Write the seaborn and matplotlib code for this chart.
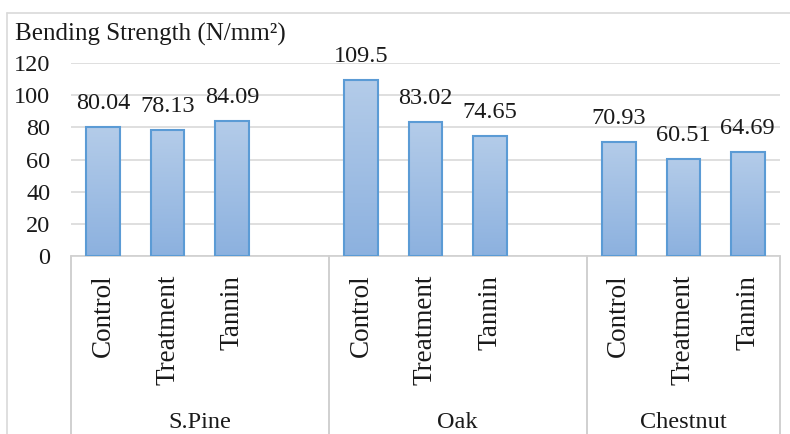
import numpy as np
import pandas as pd
import matplotlib
matplotlib.use("Agg")
import matplotlib.pyplot as plt
import matplotlib.transforms as mtransforms
from matplotlib.colors import LinearSegmentedColormap
import seaborn as sns

# ---- data ----
groups = ["S.Pine", "Oak", "Chestnut"]
treatments = ["Control", "Treatment", "Tannin"]
spine_vals = [80.04, 78.13, 84.09]
oak_vals = [109.5, 83.02, 74.65]
chestnut_vals = [70.93, 60.51, 64.69]
value_labels = [["80.04", "78.13", "84.09"],
                ["109.5", "83.02", "74.65"],
                ["70.93", "60.51", "64.69"]]
y_ticks = [0, 20, 40, 60, 80, 100, 120]
y_title = "Bending Strength (N/mm²)"

all_vals = [spine_vals, oak_vals, chestnut_vals]

# build table and slot order (an empty slot between groups, as in the original)
rows = []
order = []
slot_text = []
group_bounds = []
for gi, (g, vals) in enumerate(zip(groups, all_vals)):
    start = len(order) - 0.5
    for t, v in zip(treatments, vals):
        key = f"{g}|{t}"
        rows.append({"slot": key, "value": v})
        order.append(key)
        slot_text.append(t)
    if gi < len(groups) - 1:
        order.append(f"gap{gi}")
        slot_text.append("")
    end = len(order) - 0.5
    group_bounds.append((start, end))
df = pd.DataFrame(rows)

sns.set_theme(style="white")
SERIF = ["Liberation Serif", "DejaVu Serif"]
plt.rcParams["font.family"] = SERIF
TXT = "#1a1a1a"

fig = plt.figure(figsize=(7.9, 4.34), dpi=100)
ax = fig.add_axes([71 / 790, 1 - 256 / 434, (780 - 71) / 790, (256 - 63) / 434])

sns.barplot(data=df, x="slot", y="value", order=order, width=0.52,
            color="#a3c0e4", edgecolor="#5b9bd5", linewidth=1.5,
            errorbar=None, ax=ax, zorder=3)

ax.set_ylim(0, 120)
ax.set_xlim(-0.5, len(order) - 0.5)
ax.set_yticks(y_ticks)
ax.set_yticklabels([str(t) for t in y_ticks], fontsize=17.5, color=TXT,
                   family=SERIF)
ax.tick_params(axis="y", length=0, pad=15)
ax.yaxis.grid(True, color="#d9d9d9", linewidth=1.2, zorder=0)
ax.set_axisbelow(True)
for s in ["top", "right", "left"]:
    ax.spines[s].set_visible(False)
ax.spines["bottom"].set_color("#d0d0d0")
ax.spines["bottom"].set_linewidth(1.2)
ax.set_xlabel("")
ax.set_ylabel("")

# gradient fill of bars
grad = np.linspace(0, 1, 256).reshape(-1, 1)
cmap = LinearSegmentedColormap.from_list("g", ["#8cb1df", "#b4cce9"])
for p in list(ax.patches):
    bb = p.get_bbox()
    if bb.height <= 0:
        continue
    im = ax.imshow(grad, cmap=cmap, aspect="auto", origin="lower",
                   extent=[bb.x0, bb.x1, bb.y0, bb.y1], zorder=2.5,
                   interpolation="bilinear")
    im.set_clip_path(p)
    p.set_facecolor("none")
ax.set_xlim(-0.5, len(order) - 0.5)
ax.set_ylim(0, 120)

# value labels
for gi, vals in enumerate(all_vals):
    for ti, v in enumerate(vals):
        xpos = order.index(f"{groups[gi]}|{treatments[ti]}")
        ax.annotate(value_labels[gi][ti], (xpos, v), xytext=(0, 13),
                    textcoords="offset points", ha="center", va="baseline",
                    fontsize=17.5, color=TXT, family=SERIF)

# category tick labels
ax.set_xticks(range(len(order)))
ax.set_xticklabels(slot_text, rotation=90, fontsize=19.5, color=TXT,
                   va="top", ha="center", family=SERIF)
ax.tick_params(axis="x", length=0, pad=13.5)

# group separators and labels
trans = mtransforms.blended_transform_factory(ax.transData, ax.transAxes)
edges = sorted(set([b for se in group_bounds for b in se]))
for e in edges:
    ax.plot([e, e], [0, -1.0], transform=trans, color="#c8c8c8",
            linewidth=1.2, clip_on=False)
for g, (s, e) in zip(groups, group_bounds):
    ax.text((s + e) / 2, -(423 - 256) / 193, g, transform=trans,
            ha="center", va="center", fontsize=17.5, color=TXT, family=SERIF)

# title and outer frame
fig.text(15 / 790, 1 - 34 / 434, y_title, ha="left", va="center",
         fontsize=18, color=TXT, family=SERIF)
fig.add_artist(plt.Line2D([7 / 790, 1], [1 - 13 / 434, 1 - 13 / 434],
                          transform=fig.transFigure, color="#d9d9d9", linewidth=1.2))
fig.add_artist(plt.Line2D([7 / 790, 7 / 790], [0, 1 - 13 / 434],
                          transform=fig.transFigure, color="#d9d9d9", linewidth=1.2))

fig.savefig("out.png", dpi=100, facecolor="white")
